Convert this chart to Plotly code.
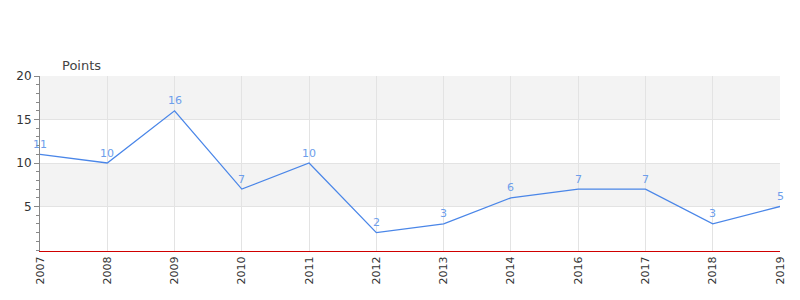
import plotly.graph_objects as go

years = ["2007", "2008", "2009", "2010", "2011", "2012", "2013", "2014", "2016", "2017", "2018", "2019"]
points = [11, 10, 16, 7, 10, 2, 3, 6, 7, 7, 3, 5]
y_ticks = [5, 10, 15, 20]
bands = [(5, 10), (15, 20)]

LINE = "#4a86e8"

xs = list(range(len(years)))
fig = go.Figure()
fig.add_trace(go.Scatter(
    x=xs, y=points, mode="lines",
    line=dict(color=LINE, width=1.3), hoverinfo="skip",
))

for lo, hi in bands:
    fig.add_shape(type="rect", xref="paper", x0=0, x1=1, yref="y", y0=lo, y1=hi,
                  fillcolor="#f3f3f3", line=dict(width=0), layer="below")

annotations = [dict(
    text="Points", xref="paper", yref="paper", x=0, y=1,
    xanchor="left", yanchor="bottom", xshift=20, yshift=1,
    showarrow=False, font=dict(family="DejaVu Sans", size=13, color="#444"),
)]
for x, p in zip(xs, points):
    annotations.append(dict(
        text=str(p), x=x, y=p, xref="x", yref="y", showarrow=False,
        xanchor="center", yanchor="middle", yshift=10,
        font=dict(family="DejaVu Sans", size=11, color="#6d9eeb"),
    ))

fig.update_layout(
    width=800, height=300,
    margin=dict(l=40, r=20, t=76, b=49),
    paper_bgcolor="white", plot_bgcolor="white",
    showlegend=False,
    font=dict(family="DejaVu Sans", color="#333"),
    xaxis=dict(
        tickmode="array", tickvals=xs, ticktext=years,
        range=[0, len(years) - 1], tickangle=-90,
        showgrid=True, gridcolor="#e3e3e3", gridwidth=1,
        showline=True, linecolor="#d00000", linewidth=1,
        ticks="", zeroline=False,
        tickfont=dict(size=11, color="#333"),
    ),
    yaxis=dict(
        range=[-0.115, 20], tickvals=y_ticks,
        showgrid=True, gridcolor="#e3e3e3", gridwidth=1,
        showline=True, linecolor="#888", linewidth=1,
        ticks="outside", ticklen=5, tickcolor="#888",
        minor=dict(tick0=0, dtick=1, ticks="outside", ticklen=3, tickcolor="#888", showgrid=False),
        zeroline=True, zerolinecolor="#666", zerolinewidth=1,
        tickfont=dict(size=12, color="#333"),
    ),
    annotations=annotations,
)

fig.write_html("out.html")
